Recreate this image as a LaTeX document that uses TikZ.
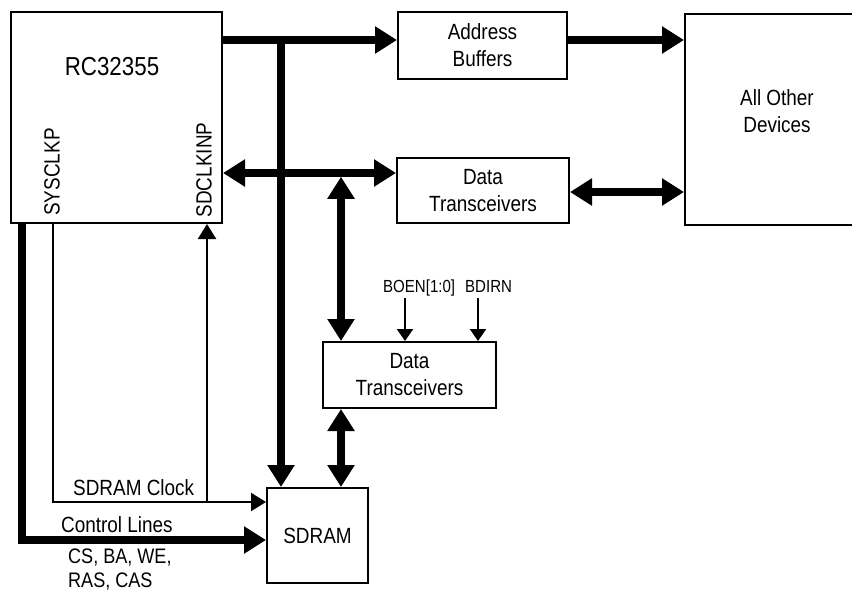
\documentclass[tikz,border=0pt]{standalone}
\usepackage{fontspec}
\setmainfont{Liberation Sans}[FakeStretch=0.86]
\usetikzlibrary{arrows.meta}
\tikzset{
  box/.style={draw, line width=2pt, inner sep=0pt, align=center,
    font=\fontsize{22}{27}\selectfont},
  txt/.style={inner sep=0pt, font=\fontsize{22}{27}\selectfont},
  small/.style={inner sep=0pt, font=\fontsize{17.5}{20}\selectfont},
  bus/.style={line width=7.5pt},
  wire/.style={line width=2.2pt},
  bigtip/.tip={Triangle[length=22pt,width=26pt]},
  thintip/.tip={Triangle[length=15pt,width=18pt]},
  smalltip/.tip={Triangle[length=12pt,width=16pt]}
}
\begin{document}
\begin{tikzpicture}[x=1pt,y=-1pt]
\useasboundingbox (0,0) rectangle (852,590);
% boxes
\node[box, minimum width=211pt, minimum height=211pt] (rc) at (116.5,117.5) {};
\node[box, minimum width=169pt, minimum height=67pt] (ab) at (482.5,45.5) {Address\\Buffers};
\node[box, minimum width=172pt, minimum height=65pt] (dt1) at (483,190.5) {Data\\Transceivers};
\node[box, minimum width=173pt, minimum height=66pt] (dt2) at (409.5,375) {Data\\Transceivers};
\node[box, minimum width=101pt, minimum height=95pt] (sd) at (317.5,535.5) {SDRAM};
\node[box, minimum width=185pt, minimum height=211pt] (aod) at (777.5,119.5) {};
% texts
\node[txt, font=\fontsize{26}{30}\selectfont, anchor=base] (rctext) at (112,75) {RC32355};
\node[txt, rotate=90] (sysclk) at (52,172) {SYSCLKP};
\node[txt, rotate=90] (sdclkin) at (204,170) {SDCLKINP};
\node[txt, align=center] (aodtext) at (777,111) {All Other\\Devices};
\node[txt, anchor=base west] (clktext) at (73,495) {SDRAM Clock};
\node[txt, anchor=base west] (ctltext) at (61,532) {Control Lines};
\node[txt, anchor=base west, align=left, font=\fontsize{21}{23.5}\selectfont] (cstext) at (68,587) {CS, BA, WE,\\RAS, CAS};
\node[small, anchor=base west] (boen) at (383,292) {BOEN[1:0]};
\node[small, anchor=base west] (bdirn) at (465,292) {BDIRN};
% coordinates
\coordinate (busY) at (0,40);
\coordinate (jA) at (281,40);
\coordinate (dY) at (0,173);
\coordinate (jB) at (341,176.75);
\coordinate (dt1Y) at (0,192);
\coordinate (ctlY) at (0,540);
\coordinate (clkY) at (0,502);
\coordinate (thickX) at (22,0);
\coordinate (thinX) at (53,0);
\coordinate (clkB) at (207,502);
\coordinate (boenS) at (405,298);
\coordinate (bdirnS) at (478,298);
% buses
\draw[bus, -{bigtip}] (rc.east |- busY) -- (ab.west |- busY);
\draw[bus, -{bigtip}] (jA) -- (sd.north -| jA);
\draw[bus, {bigtip}-{bigtip}] (rc.east |- dY) -- (dt1.west |- dY);
\draw[bus, {bigtip}-{bigtip}] (jB) -- (dt2.north -| jB);
\draw[bus, {bigtip}-{bigtip}] (dt2.south -| jB) -- (sd.north -| jB);
\draw[bus, -{bigtip}] (ab.east |- busY) -- (aod.west |- busY);
\draw[bus, {bigtip}-{bigtip}] (dt1.east |- dt1Y) -- (aod.west |- dt1Y);
\draw[bus, -{bigtip}] (rc.south -| thickX) |- (sd.west |- ctlY);
% thin wires
\draw[wire, -{thintip}] (rc.south -| thinX) |- (sd.west |- clkY);
\draw[wire, -{thintip}] (clkB) -- (rc.south -| clkB);
\draw[wire, -{smalltip}] (boenS) -- (dt2.north -| boenS);
\draw[wire, -{smalltip}] (bdirnS) -- (dt2.north -| bdirnS);
\end{tikzpicture}
\end{document}
